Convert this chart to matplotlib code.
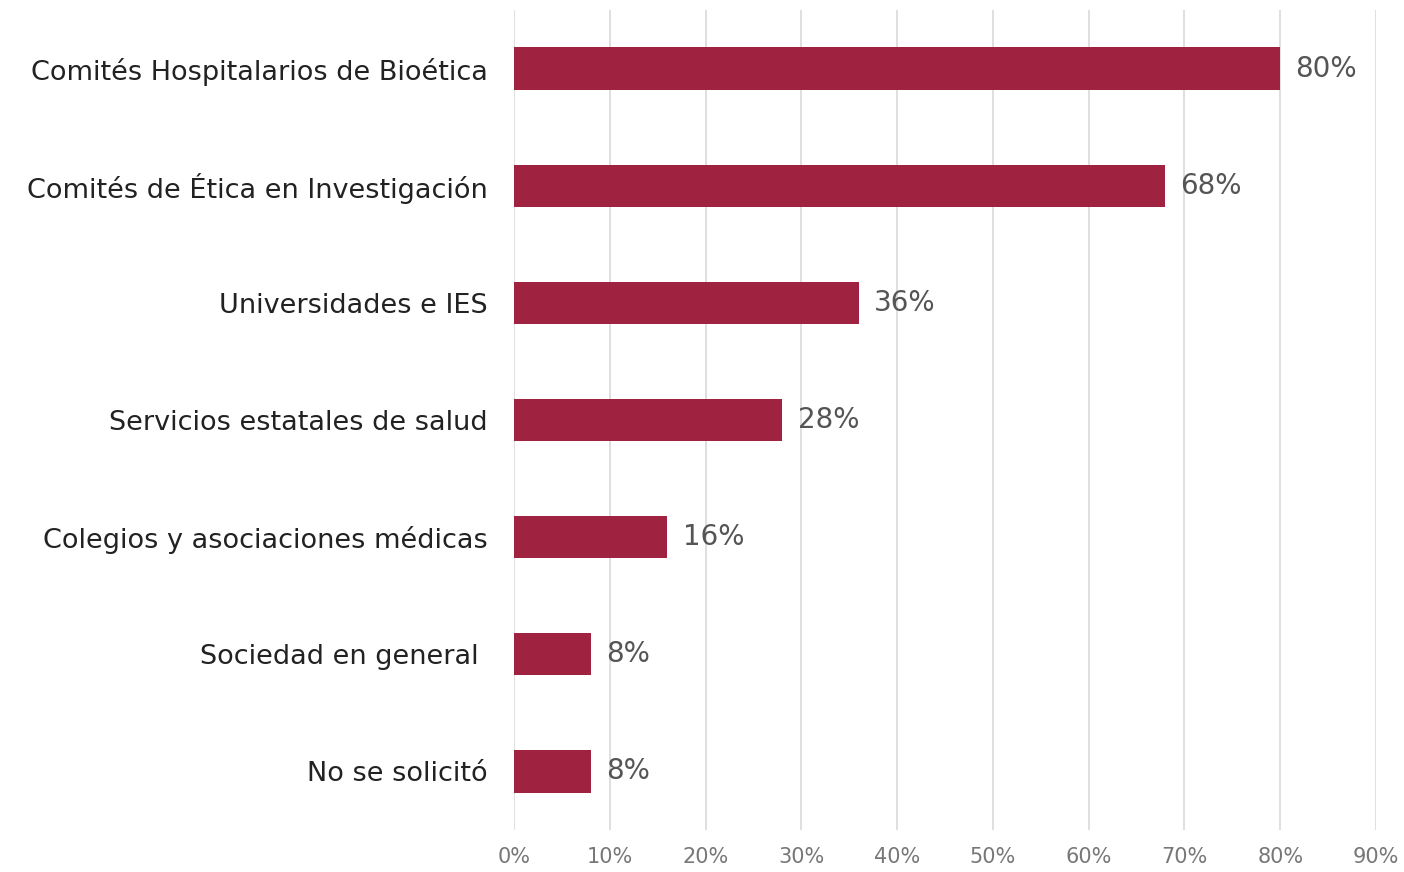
import matplotlib.pyplot as plt

# datos
categorias = ["Comités Hospitalarios de Bioética", "Comités de Ética en Investigación",
              "Universidades e IES", "Servicios estatales de salud",
              "Colegios y asociaciones médicas", "Sociedad en general ", "No se solicitó"]
valores = [80, 68, 36, 28, 16, 8, 8]
ticks = [0, 10, 20, 30, 40, 50, 60, 70, 80, 90]

plt.rcParams['font.family'] = ['DejaVu Sans']

fig = plt.figure(figsize=(14.04, 8.72), dpi=100)
ax = fig.add_axes([514/1404, 42/872, 862/1404, 820/872])

pos = list(range(len(categorias)))
ax.barh(pos, valores, height=0.36, color="#9F2241", zorder=3)
for p, v in zip(pos, valores):
    ax.text(v + 1.6, p, "%d%%" % v, va="center", ha="left", fontsize=20, color="#555555")

ax.set_ylim(6.5, -0.5)
ax.set_xlim(0, 90)
ax.set_yticks(pos)
ax.set_yticklabels(categorias, fontsize=19.5, color="#222222")
ax.set_xticks(ticks)
ax.set_xticklabels(["%d%%" % t for t in ticks], fontsize=15, color="#777777")
ax.tick_params(axis="y", length=0, pad=19)
ax.tick_params(axis="x", length=0, pad=12)
ax.grid(axis="x", color="#dcdcdc", linewidth=1.3, zorder=0)
for s in ax.spines.values():
    s.set_visible(False)

plt.savefig("out.png", dpi=100)
